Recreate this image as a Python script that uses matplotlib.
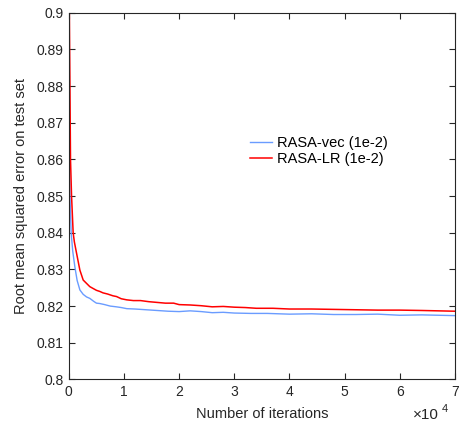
import numpy as np
import matplotlib
matplotlib.use('Agg')
import matplotlib.pyplot as plt

plt.rcParams['font.family'] = ['Liberation Sans', 'DejaVu Sans']

## Values
iters_vec = [0, 130, 200, 420, 700, 1090, 1500, 2000, 2600, 3200, 3800, 4500, 5000, 5600,
             6500, 7500, 8600, 9500, 10500, 12000, 14000, 16000, 18000, 20000, 22000, 24000,
             26000, 28000, 30000, 33000, 36000, 40000, 44000, 48000, 52000, 56000, 60000,
             64000, 67000, 70000]
rmse_vec = [0.95, 0.86, 0.85, 0.84, 0.835, 0.8307, 0.827, 0.8244, 0.8232, 0.8225, 0.8221,
            0.8213, 0.8208, 0.8207, 0.8204, 0.8200, 0.8198, 0.8196, 0.8193, 0.8192, 0.8190,
            0.8188, 0.8186, 0.8185, 0.8187, 0.8185, 0.8182, 0.8183, 0.8181, 0.8180, 0.8180,
            0.8178, 0.8179, 0.8177, 0.8177, 0.8178, 0.8175, 0.8176, 0.8175, 0.8174]

iters_lr = [0, 90, 300, 490, 780, 1000, 1400, 2000, 2600, 3200, 3800, 4400, 5000, 5600, 6200,
            7000, 8000, 8650, 9500, 10500, 11700, 13000, 14500, 16000, 17500, 19000, 20000,
            22000, 24000, 26000, 28000, 30000, 32000, 34000, 37000, 40000, 44000, 48000,
            52000, 56000, 60000, 64000, 67000, 70000]
rmse_lr = [0.97, 0.90, 0.86, 0.85, 0.84, 0.8375, 0.8344, 0.8298, 0.8271, 0.8262, 0.8253,
           0.8248, 0.8243, 0.8240, 0.8236, 0.8233, 0.8228, 0.8226, 0.8220, 0.8217, 0.8215,
           0.8215, 0.8212, 0.8210, 0.8208, 0.8208, 0.8204, 0.8203, 0.8201, 0.8198, 0.8199,
           0.8197, 0.8196, 0.8194, 0.8194, 0.8192, 0.8192, 0.8191, 0.8190, 0.8189, 0.8189,
           0.8188, 0.8187, 0.8186]

xticks = [0, 10000, 20000, 30000, 40000, 50000, 60000, 70000]
xtick_labels = ['0', '1', '2', '3', '4', '5', '6', '7']
yticks = [0.8, 0.81, 0.82, 0.83, 0.84, 0.85, 0.86, 0.87, 0.88, 0.89, 0.9]
ytick_labels = ['0.8', '0.81', '0.82', '0.83', '0.84', '0.85', '0.86', '0.87', '0.88', '0.89', '0.9']

fig = plt.figure(figsize=(4.59, 4.23), dpi=100)
ax = fig.add_axes([0.150, 0.103, 0.841, 0.867])

ax.plot(iters_vec, rmse_vec, color='#6a9cff', lw=1.0, label='RASA-vec (1e-2)')
ax.plot(iters_lr, rmse_lr, color='#ff0000', lw=1.1, label='RASA-LR (1e-2)')

ax.set_xlim(0, 70000)
ax.set_ylim(0.8, 0.9)
ax.set_xticks(xticks)
ax.set_xticklabels(xtick_labels)
ax.set_yticks(yticks)
ax.set_yticklabels(ytick_labels)

dark = '#262626'
for s in ax.spines.values():
    s.set_color(dark)
    s.set_linewidth(0.8)
ax.tick_params(direction='in', top=True, right=True, length=4, width=0.8,
               colors=dark, labelsize=10, pad=4)

ax.set_xlabel('Number of iterations', fontsize=10.5, color=dark, labelpad=6)
ax.set_ylabel('Root mean squared error on test set', fontsize=10.5, color=dark, labelpad=6)

# MATLAB style exponent below the x axis
fig.text(0.899, 0.010, '\u00d710', fontsize=11, color=dark)
fig.text(0.963, 0.026, '4', fontsize=8, color=dark)

ax.legend(loc='upper left', bbox_to_anchor=(0.455, 0.68), frameon=False, fontsize=10.5,
          handlelength=1.5, handletextpad=0.3, labelspacing=0.15, borderaxespad=0)

fig.savefig('out.png', dpi=100)
